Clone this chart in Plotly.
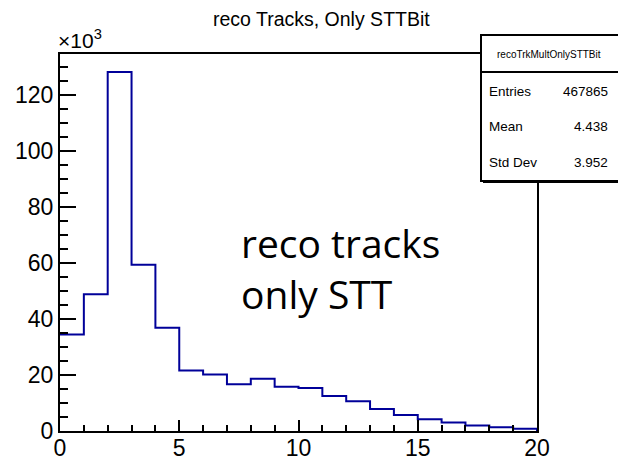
import numpy as np
import plotly.graph_objects as go

# Histogram: reconstructed track multiplicity, only-STT trigger bit
bin_edges = list(range(0, 21))
counts = [34500, 48900, 128300, 59400, 36900, 21600, 20200, 16700, 18700, 15800,
          15400, 12500, 10600, 7900, 5700, 4200, 3000, 2000, 1300, 800]

y_tick_vals = [0, 20000, 40000, 60000, 80000, 100000, 120000]
y_tick_text = ["0", "20", "40", "60", "80", "100", "120"]
x_tick_vals = [0, 5, 10, 15, 20]

stats_name = "recoTrkMultOnlySTTBit"
stats_rows = [("Entries", "467865"), ("Mean", "4.438"), ("Std Dev", "3.952")]

W, H = 618, 461
L, R, T, B = 60, 537, 54, 431

def px(x):
    return (x - L) / (R - L)

def py(y):
    return (B - y) / (B - T)

step_x = np.array(bin_edges, dtype=float)
step_y = np.array(counts + [counts[-1]], dtype=float)

fig = go.Figure()
fig.add_trace(go.Scatter(
    x=step_x, y=step_y, mode="lines", line=dict(shape="hv", color="#000099", width=2),
    hoverinfo="skip", showlegend=False,
))
fig.add_trace(go.Scatter(
    x=[20, 20], y=[counts[-1], 0], mode="lines", line=dict(color="#000099", width=2),
    hoverinfo="skip", showlegend=False,
))

ymax = max(counts) * 1.05
axis_font = dict(family="Liberation Sans, Arial", size=23, color="black")

fig.update_layout(
    width=W, height=H,
    margin=dict(l=L, r=W - R, t=T, b=H - B, pad=0),
    paper_bgcolor="white", plot_bgcolor="white",
    xaxis=dict(range=[0, 20], showgrid=False, zeroline=False, showline=True, mirror=True,
               automargin=False, ticklabelstandoff=-5,
               linecolor="black", linewidth=2, ticks="inside", ticklen=11, tickwidth=2,
               tickcolor="black", tickvals=x_tick_vals, tickfont=axis_font,
               minor=dict(dtick=1, ticks="inside", ticklen=6, tickwidth=2, tickcolor="black")),
    yaxis=dict(range=[0, ymax], showgrid=False, zeroline=False, showline=True, mirror=True,
               automargin=False,
               linecolor="black", linewidth=2, ticks="inside", ticklen=16, tickwidth=2,
               tickcolor="black", tickvals=y_tick_vals, ticktext=y_tick_text,
               tickfont=axis_font,
               minor=dict(dtick=5000, ticks="inside", ticklen=8, tickwidth=2, tickcolor="black")),
    font=dict(family="Liberation Sans, Arial", color="black"),
)

annotations = [
    dict(text="reco Tracks, Only STTBit", x=px(321), y=py(19), xref="paper", yref="paper",
         showarrow=False, font=dict(size=19.5), xanchor="center", yanchor="middle"),
    dict(text="×10<sup>3</sup>", x=px(56), y=py(39), xref="paper", yref="paper",
         showarrow=False, font=dict(size=21), xanchor="left", yanchor="middle"),
    dict(text="reco tracks<br>only STT", x=px(239), y=py(268), xref="paper", yref="paper",
         showarrow=False, align="left", xanchor="left", yanchor="middle",
         font=dict(family="Open Sans", size=39, color="black")),
    dict(text=stats_name, x=px(549), y=py(54), xref="paper", yref="paper",
         showarrow=False, xanchor="center", yanchor="middle", font=dict(size=10)),
]
row_y = [91, 127, 162]
for (label, val), yy in zip(stats_rows, row_y):
    annotations.append(dict(text=label, x=px(487), y=py(yy), xref="paper", yref="paper",
                            showarrow=False, xanchor="left", yanchor="middle",
                            font=dict(size=13.5)))
    annotations.append(dict(text=val, x=px(610), y=py(yy), xref="paper", yref="paper",
                            showarrow=False, xanchor="right", yanchor="middle",
                            font=dict(size=13.5)))
fig.update_layout(annotations=annotations)

shapes = [
    # stats box shadow and frame
    dict(type="rect", xref="paper", yref="paper", x0=px(483), x1=px(622), y0=py(37), y1=py(183),
         line=dict(width=0), fillcolor="black", layer="above"),
    dict(type="rect", xref="paper", yref="paper", x0=px(481), x1=px(620), y0=py(35), y1=py(181),
         line=dict(color="black", width=2), fillcolor="white", layer="above"),
    dict(type="line", xref="paper", yref="paper", x0=px(481), x1=px(620), y0=py(72), y1=py(72),
         line=dict(color="black", width=2), layer="above"),
]
fig.update_layout(shapes=shapes)

fig.write_html("out.html")
